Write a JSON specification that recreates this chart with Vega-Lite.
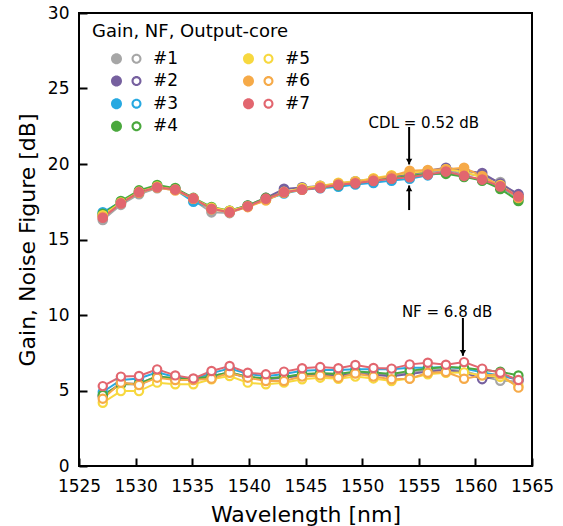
{
"$schema": "https://vega.github.io/schema/vega-lite/v6.json",
"width": 453, "height": 453,
"autosize": {"type": "none"},
"padding": {"left": 79, "top": 13, "right": 31, "bottom": 60},
"config": {
  "font": "DejaVu Sans",
  "view": {"stroke": "black", "strokeWidth": 2},
  "axis": {"domain": false, "grid": false, "ticks": true, "offset": -8, "tickSize": 8, "tickWidth": 2, "tickColor": "black", "labelFontSize": 17, "labelColor": "black", "labelFlush": false, "titleFontSize": 22, "titleFontWeight": "normal", "titleColor": "black"},
  "axisX": {"titlePadding": 10, "format": "d", "labelPadding": 12},
  "axisY": {"titlePadding": 8, "labelPadding": 10}
},
"datasets": {
"cores": [
{"core":"#1","wavelength":1527.1,"gain":16.3,"nf":4.65},{"core":"#1","wavelength":1528.7,"gain":17.3,"nf":5.5},{"core":"#1","wavelength":1530.3,"gain":18.0,"nf":5.45},{"core":"#1","wavelength":1531.9,"gain":18.4,"nf":5.95},{"core":"#1","wavelength":1533.5,"gain":18.3,"nf":5.8},{"core":"#1","wavelength":1535.1,"gain":17.6,"nf":5.75},{"core":"#1","wavelength":1536.7,"gain":16.8,"nf":5.95},{"core":"#1","wavelength":1538.3,"gain":16.75,"nf":6.2},{"core":"#1","wavelength":1539.9,"gain":17.2,"nf":5.9},{"core":"#1","wavelength":1541.5,"gain":17.65,"nf":5.8},{"core":"#1","wavelength":1543.1,"gain":18.1,"nf":5.9},{"core":"#1","wavelength":1544.7,"gain":18.35,"nf":6.05},{"core":"#1","wavelength":1546.3,"gain":18.5,"nf":6.15},{"core":"#1","wavelength":1547.9,"gain":18.65,"nf":6.1},{"core":"#1","wavelength":1549.4,"gain":18.8,"nf":6.2},{"core":"#1","wavelength":1551.0,"gain":18.95,"nf":6.15},{"core":"#1","wavelength":1552.6,"gain":19.15,"nf":6.05},{"core":"#1","wavelength":1554.2,"gain":19.3,"nf":6.2},{"core":"#1","wavelength":1555.8,"gain":19.45,"nf":6.35},{"core":"#1","wavelength":1557.4,"gain":19.6,"nf":6.4},{"core":"#1","wavelength":1559.0,"gain":19.35,"nf":6.3},{"core":"#1","wavelength":1560.6,"gain":19.2,"nf":5.95},{"core":"#1","wavelength":1562.2,"gain":18.8,"nf":5.65},{"core":"#1","wavelength":1563.8,"gain":17.9,"nf":5.6},
{"core":"#2","wavelength":1527.1,"gain":16.6,"nf":4.6},{"core":"#2","wavelength":1528.7,"gain":17.45,"nf":5.45},{"core":"#2","wavelength":1530.3,"gain":18.1,"nf":5.4},{"core":"#2","wavelength":1531.9,"gain":18.5,"nf":5.9},{"core":"#2","wavelength":1533.5,"gain":18.35,"nf":5.75},{"core":"#2","wavelength":1535.1,"gain":17.65,"nf":5.7},{"core":"#2","wavelength":1536.7,"gain":17.05,"nf":5.9},{"core":"#2","wavelength":1538.3,"gain":16.9,"nf":6.15},{"core":"#2","wavelength":1539.9,"gain":17.25,"nf":5.85},{"core":"#2","wavelength":1541.5,"gain":17.75,"nf":5.75},{"core":"#2","wavelength":1543.1,"gain":18.35,"nf":5.85},{"core":"#2","wavelength":1544.7,"gain":18.45,"nf":6.0},{"core":"#2","wavelength":1546.3,"gain":18.55,"nf":6.05},{"core":"#2","wavelength":1547.9,"gain":18.7,"nf":6.0},{"core":"#2","wavelength":1549.4,"gain":18.85,"nf":6.1},{"core":"#2","wavelength":1551.0,"gain":19.0,"nf":6.05},{"core":"#2","wavelength":1552.6,"gain":19.2,"nf":5.95},{"core":"#2","wavelength":1554.2,"gain":19.35,"nf":6.1},{"core":"#2","wavelength":1555.8,"gain":19.55,"nf":6.25},{"core":"#2","wavelength":1557.4,"gain":19.75,"nf":6.35},{"core":"#2","wavelength":1559.0,"gain":19.55,"nf":6.2},{"core":"#2","wavelength":1560.6,"gain":19.4,"nf":5.75},{"core":"#2","wavelength":1562.2,"gain":18.7,"nf":6.0},{"core":"#2","wavelength":1563.8,"gain":18.0,"nf":5.7},
{"core":"#3","wavelength":1527.1,"gain":16.8,"nf":4.9},{"core":"#3","wavelength":1528.7,"gain":17.5,"nf":5.7},{"core":"#3","wavelength":1530.3,"gain":18.15,"nf":5.8},{"core":"#3","wavelength":1531.9,"gain":18.5,"nf":6.2},{"core":"#3","wavelength":1533.5,"gain":18.3,"nf":5.9},{"core":"#3","wavelength":1535.1,"gain":17.5,"nf":5.75},{"core":"#3","wavelength":1536.7,"gain":17.1,"nf":6.15},{"core":"#3","wavelength":1538.3,"gain":16.85,"nf":6.45},{"core":"#3","wavelength":1539.9,"gain":17.2,"nf":6.1},{"core":"#3","wavelength":1541.5,"gain":17.65,"nf":5.95},{"core":"#3","wavelength":1543.1,"gain":18.05,"nf":6.1},{"core":"#3","wavelength":1544.7,"gain":18.3,"nf":6.3},{"core":"#3","wavelength":1546.3,"gain":18.4,"nf":6.35},{"core":"#3","wavelength":1547.9,"gain":18.5,"nf":6.35},{"core":"#3","wavelength":1549.4,"gain":18.65,"nf":6.4},{"core":"#3","wavelength":1551.0,"gain":18.75,"nf":6.4},{"core":"#3","wavelength":1552.6,"gain":18.9,"nf":6.4},{"core":"#3","wavelength":1554.2,"gain":19.03,"nf":6.5},{"core":"#3","wavelength":1555.8,"gain":19.25,"nf":6.5},{"core":"#3","wavelength":1557.4,"gain":19.45,"nf":6.55},{"core":"#3","wavelength":1559.0,"gain":19.2,"nf":6.45},{"core":"#3","wavelength":1560.6,"gain":18.95,"nf":6.2},{"core":"#3","wavelength":1562.2,"gain":18.5,"nf":6.0},{"core":"#3","wavelength":1563.8,"gain":17.7,"nf":5.75},
{"core":"#4","wavelength":1527.1,"gain":16.7,"nf":4.7},{"core":"#4","wavelength":1528.7,"gain":17.55,"nf":5.4},{"core":"#4","wavelength":1530.3,"gain":18.25,"nf":5.45},{"core":"#4","wavelength":1531.9,"gain":18.6,"nf":5.95},{"core":"#4","wavelength":1533.5,"gain":18.4,"nf":5.8},{"core":"#4","wavelength":1535.1,"gain":17.75,"nf":5.75},{"core":"#4","wavelength":1536.7,"gain":17.15,"nf":5.95},{"core":"#4","wavelength":1538.3,"gain":16.9,"nf":6.2},{"core":"#4","wavelength":1539.9,"gain":17.25,"nf":5.9},{"core":"#4","wavelength":1541.5,"gain":17.75,"nf":5.8},{"core":"#4","wavelength":1543.1,"gain":18.1,"nf":5.9},{"core":"#4","wavelength":1544.7,"gain":18.35,"nf":6.1},{"core":"#4","wavelength":1546.3,"gain":18.45,"nf":6.15},{"core":"#4","wavelength":1547.9,"gain":18.6,"nf":6.1},{"core":"#4","wavelength":1549.4,"gain":18.75,"nf":6.25},{"core":"#4","wavelength":1551.0,"gain":18.9,"nf":6.2},{"core":"#4","wavelength":1552.6,"gain":19.05,"nf":6.1},{"core":"#4","wavelength":1554.2,"gain":19.2,"nf":6.3},{"core":"#4","wavelength":1555.8,"gain":19.35,"nf":6.45},{"core":"#4","wavelength":1557.4,"gain":19.35,"nf":6.55},{"core":"#4","wavelength":1559.0,"gain":19.15,"nf":6.5},{"core":"#4","wavelength":1560.6,"gain":18.9,"nf":6.35},{"core":"#4","wavelength":1562.2,"gain":18.35,"nf":6.25},{"core":"#4","wavelength":1563.8,"gain":17.55,"nf":6.0},
{"core":"#5","wavelength":1527.1,"gain":16.6,"nf":4.19},{"core":"#5","wavelength":1528.7,"gain":17.45,"nf":4.96},{"core":"#5","wavelength":1530.3,"gain":18.15,"nf":4.96},{"core":"#5","wavelength":1531.9,"gain":18.5,"nf":5.52},{"core":"#5","wavelength":1533.5,"gain":18.3,"nf":5.41},{"core":"#5","wavelength":1535.1,"gain":17.7,"nf":5.41},{"core":"#5","wavelength":1536.7,"gain":17.1,"nf":5.74},{"core":"#5","wavelength":1538.3,"gain":16.9,"nf":5.96},{"core":"#5","wavelength":1539.9,"gain":17.2,"nf":5.52},{"core":"#5","wavelength":1541.5,"gain":17.6,"nf":5.41},{"core":"#5","wavelength":1543.1,"gain":18.15,"nf":5.52},{"core":"#5","wavelength":1544.7,"gain":18.4,"nf":5.74},{"core":"#5","wavelength":1546.3,"gain":18.55,"nf":5.85},{"core":"#5","wavelength":1547.9,"gain":18.75,"nf":5.78},{"core":"#5","wavelength":1549.4,"gain":18.85,"nf":5.92},{"core":"#5","wavelength":1551.0,"gain":19.05,"nf":5.8},{"core":"#5","wavelength":1552.6,"gain":19.25,"nf":5.63},{"core":"#5","wavelength":1554.2,"gain":19.4,"nf":5.8},{"core":"#5","wavelength":1555.8,"gain":19.55,"nf":6.07},{"core":"#5","wavelength":1557.4,"gain":19.65,"nf":6.18},{"core":"#5","wavelength":1559.0,"gain":19.5,"nf":6.2},{"core":"#5","wavelength":1560.6,"gain":19.1,"nf":6.0},{"core":"#5","wavelength":1562.2,"gain":18.6,"nf":5.9},{"core":"#5","wavelength":1563.8,"gain":17.8,"nf":5.3},
{"core":"#6","wavelength":1527.1,"gain":16.5,"nf":4.46},{"core":"#6","wavelength":1528.7,"gain":17.4,"nf":5.52},{"core":"#6","wavelength":1530.3,"gain":18.1,"nf":5.36},{"core":"#6","wavelength":1531.9,"gain":18.45,"nf":5.85},{"core":"#6","wavelength":1533.5,"gain":18.25,"nf":5.69},{"core":"#6","wavelength":1535.1,"gain":17.7,"nf":5.69},{"core":"#6","wavelength":1536.7,"gain":17.0,"nf":5.78},{"core":"#6","wavelength":1538.3,"gain":16.8,"nf":6.18},{"core":"#6","wavelength":1539.9,"gain":17.15,"nf":5.85},{"core":"#6","wavelength":1541.5,"gain":17.6,"nf":5.63},{"core":"#6","wavelength":1543.1,"gain":18.1,"nf":5.63},{"core":"#6","wavelength":1544.7,"gain":18.3,"nf":5.92},{"core":"#6","wavelength":1546.3,"gain":18.5,"nf":6.0},{"core":"#6","wavelength":1547.9,"gain":18.7,"nf":5.85},{"core":"#6","wavelength":1549.4,"gain":18.8,"nf":6.13},{"core":"#6","wavelength":1551.0,"gain":19.0,"nf":5.92},{"core":"#6","wavelength":1552.6,"gain":19.2,"nf":5.74},{"core":"#6","wavelength":1554.2,"gain":19.55,"nf":5.78},{"core":"#6","wavelength":1555.8,"gain":19.6,"nf":6.18},{"core":"#6","wavelength":1557.4,"gain":19.65,"nf":6.22},{"core":"#6","wavelength":1559.0,"gain":19.75,"nf":5.78},{"core":"#6","wavelength":1560.6,"gain":19.2,"nf":6.0},{"core":"#6","wavelength":1562.2,"gain":18.55,"nf":6.07},{"core":"#6","wavelength":1563.8,"gain":17.75,"nf":5.19},
{"core":"#7","wavelength":1527.1,"gain":16.44,"nf":5.29},{"core":"#7","wavelength":1528.7,"gain":17.39,"nf":5.92},{"core":"#7","wavelength":1530.3,"gain":18.13,"nf":5.96},{"core":"#7","wavelength":1531.9,"gain":18.46,"nf":6.4},{"core":"#7","wavelength":1533.5,"gain":18.31,"nf":6.0},{"core":"#7","wavelength":1535.1,"gain":17.72,"nf":5.8},{"core":"#7","wavelength":1536.7,"gain":17.03,"nf":6.29},{"core":"#7","wavelength":1538.3,"gain":16.81,"nf":6.62},{"core":"#7","wavelength":1539.9,"gain":17.2,"nf":6.18},{"core":"#7","wavelength":1541.5,"gain":17.7,"nf":6.07},{"core":"#7","wavelength":1543.1,"gain":18.13,"nf":6.25},{"core":"#7","wavelength":1544.7,"gain":18.31,"nf":6.47},{"core":"#7","wavelength":1546.3,"gain":18.42,"nf":6.55},{"core":"#7","wavelength":1547.9,"gain":18.62,"nf":6.47},{"core":"#7","wavelength":1549.4,"gain":18.72,"nf":6.69},{"core":"#7","wavelength":1551.0,"gain":18.88,"nf":6.49},{"core":"#7","wavelength":1552.6,"gain":19.03,"nf":6.45},{"core":"#7","wavelength":1554.2,"gain":19.13,"nf":6.73},{"core":"#7","wavelength":1555.8,"gain":19.3,"nf":6.84},{"core":"#7","wavelength":1557.4,"gain":19.5,"nf":6.71},{"core":"#7","wavelength":1559.0,"gain":19.22,"nf":6.88},{"core":"#7","wavelength":1560.6,"gain":18.97,"nf":6.45},{"core":"#7","wavelength":1562.2,"gain":18.52,"nf":6.18},{"core":"#7","wavelength":1563.8,"gain":17.85,"nf":5.69}
],
"arrows": [
{"wavelength":1554.15,"from":22.45,"to":19.97,"dir":"down"},
{"wavelength":1554.15,"from":16.95,"to":18.58,"dir":"up"},
{"wavelength":1558.9,"from":9.8,"to":7.3,"dir":"down"}
],
"notes": [
{"wavelength":1555.45,"value":22.73,"text":"CDL = 0.52 dB"},
{"wavelength":1557.5,"value":10.19,"text":"NF = 6.8 dB"}
]
},
"layer": [
{
 "data": {"name": "cores"},
 "mark": {"type": "line", "strokeWidth": 2},
 "encoding": {
  "x": {"field": "wavelength", "type": "quantitative", "scale": {"domain": [1525, 1565], "nice": false}, "axis": {"values": [1525,1530,1535,1540,1545,1550,1555,1560,1565], "title": "Wavelength [nm]"}},
  "y": {"field": "gain", "type": "quantitative", "scale": {"domain": [0, 30], "nice": false}, "axis": {"values": [0,5,10,15,20,25,30], "title": "Gain, Noise Figure [dB]"}},
  "color": {"field": "core", "type": "nominal", "scale": {"domain": ["#1","#2","#3","#4","#5","#6","#7"], "range": ["#a6a6a6","#76609f","#27a9e1","#4aa83d","#f7d83f","#f6aa48","#e2666f"]},
   "legend": {
    "orient": "none", "legendX": 13, "legendY": 10, "padding": 0,
    "title": "Gain, NF, Output-core", "titleFontSize": 18, "titleFontWeight": "normal", "titleColor": "black", "titlePadding": 9, "titleLimit": 400,
    "columns": 2, "columnPadding": 45, "rowPadding": 4.6,
    "symbolType": "M -1.1 0 A 1.1 1.1 0 1 0 1.1 0 A 1.1 1.1 0 1 0 -1.1 0 Z M 3 0 A 1 1 0 1 0 5 0 A 1 1 0 1 0 3 0 Z M 3.42 0 A 0.58 0.58 0 1 1 4.58 0 A 0.58 0.58 0 1 1 3.42 0 Z",
    "symbolSize": 100, "symbolStrokeWidth": 0, "symbolOffset": 16, "symbolOpacity": 1,
    "labelOffset": 28, "labelFontSize": 17, "labelColor": "black",
    "encode": {"symbols": {"update": {"fill": {"scale": "color", "field": "value"}, "stroke": {"value": "transparent"}, "strokeWidth": {"value": 0}, "opacity": {"value": 1}}}}
   }}
 }
},
{
 "data": {"name": "cores"},
 "mark": {"type": "point", "filled": true, "opacity": 1, "size": 115},
 "encoding": {
  "x": {"field": "wavelength", "type": "quantitative", "title": "Wavelength [nm]"},
  "y": {"field": "gain", "type": "quantitative", "title": "Gain, Noise Figure [dB]"},
  "color": {"field": "core", "type": "nominal"}
 }
},
{
 "data": {"name": "cores"},
 "mark": {"type": "line", "strokeWidth": 2},
 "encoding": {
  "x": {"field": "wavelength", "type": "quantitative", "title": "Wavelength [nm]"},
  "y": {"field": "nf", "type": "quantitative", "title": "Gain, Noise Figure [dB]"},
  "color": {"field": "core", "type": "nominal"}
 }
},
{
 "data": {"name": "cores"},
 "mark": {"type": "point", "filled": false, "fill": "white", "fillOpacity": 1, "opacity": 1, "strokeWidth": 2.2, "size": 68},
 "encoding": {
  "x": {"field": "wavelength", "type": "quantitative", "title": "Wavelength [nm]"},
  "y": {"field": "nf", "type": "quantitative", "title": "Gain, Noise Figure [dB]"},
  "color": {"field": "core", "type": "nominal"}
 }
},
{
 "data": {"name": "arrows"},
 "mark": {"type": "rule", "color": "black", "strokeWidth": 2},
 "encoding": {
  "x": {"field": "wavelength", "type": "quantitative", "title": "Wavelength [nm]"},
  "y": {"field": "from", "type": "quantitative", "title": "Gain, Noise Figure [dB]"},
  "y2": {"field": "to"}
 }
},
{
 "data": {"name": "arrows"},
 "transform": [{"filter": "datum.dir === 'down'"}],
 "mark": {"type": "point", "shape": "triangle-down", "filled": true, "color": "black", "opacity": 1, "size": 40, "yOffset": -3},
 "encoding": {
  "x": {"field": "wavelength", "type": "quantitative", "title": "Wavelength [nm]"},
  "y": {"field": "to", "type": "quantitative", "title": "Gain, Noise Figure [dB]"}
 }
},
{
 "data": {"name": "arrows"},
 "transform": [{"filter": "datum.dir === 'up'"}],
 "mark": {"type": "point", "shape": "triangle-up", "filled": true, "color": "black", "opacity": 1, "size": 40, "yOffset": 3},
 "encoding": {
  "x": {"field": "wavelength", "type": "quantitative", "title": "Wavelength [nm]"},
  "y": {"field": "to", "type": "quantitative", "title": "Gain, Noise Figure [dB]"}
 }
},
{
 "data": {"name": "notes"},
 "mark": {"type": "text", "fontSize": 15, "color": "black", "align": "center", "baseline": "middle"},
 "encoding": {
  "x": {"field": "wavelength", "type": "quantitative", "title": "Wavelength [nm]"},
  "y": {"field": "value", "type": "quantitative", "title": "Gain, Noise Figure [dB]"},
  "text": {"field": "text"}
 }
}
]
}
